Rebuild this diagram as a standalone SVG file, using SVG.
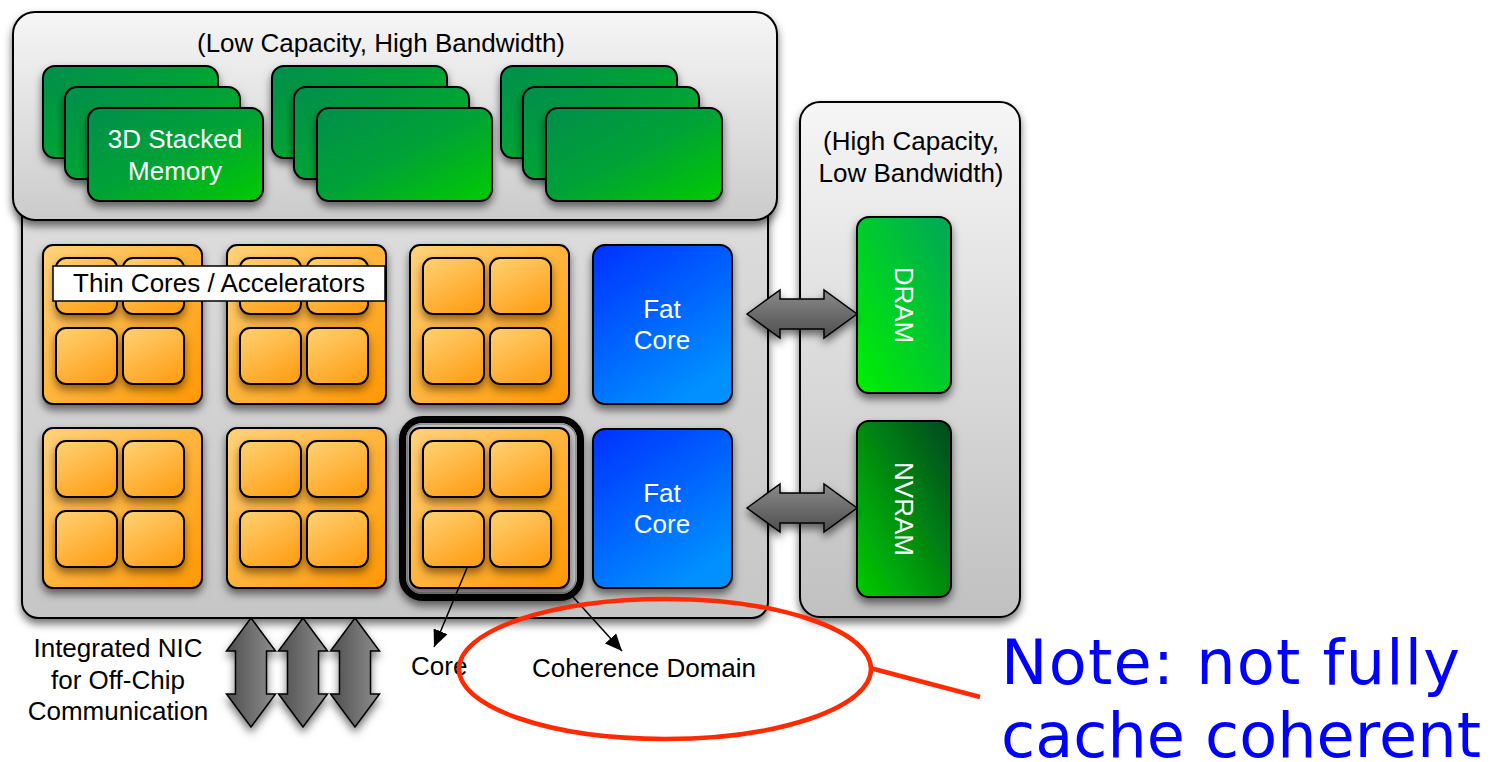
<svg xmlns="http://www.w3.org/2000/svg" width="1490" height="762" viewBox="0 0 1490 762">
<defs>
<style>
.lbl{font-family:"Liberation Sans",Arial,sans-serif;font-size:26px;fill:#000;text-anchor:middle}
.wl{font-family:"Liberation Sans",Arial,sans-serif;font-size:26px;fill:#fff;text-anchor:middle}
.note{font-family:"DejaVu Sans",Verdana,sans-serif;font-size:62px;fill:#0000ff}
.box{stroke:#000;stroke-width:2}
.mem{fill:url(#gMem);stroke:#000;stroke-width:2;filter:url(#sh)}
.tile{fill:url(#gOr);stroke:#000;stroke-width:2;filter:url(#sh)}
.sub{fill:url(#gSub);stroke:#000;stroke-width:2;filter:url(#sh2)}
.fat{fill:url(#gBlue);stroke:#000;stroke-width:2;filter:url(#sh)}
.darr{stroke:#000;stroke-width:1.5;filter:url(#sh)}
.ptr{stroke:#000;stroke-width:1.5;fill:none}
</style>
<filter id="sh" x="-20%" y="-20%" width="140%" height="150%">
<feDropShadow dx="0" dy="5" stdDeviation="4" flood-color="#000" flood-opacity="0.55"/>
</filter>
<filter id="sh2" x="-20%" y="-20%" width="140%" height="160%">
<feDropShadow dx="0" dy="5" stdDeviation="4" flood-color="#5a3000" flood-opacity="0.65"/>
</filter>
<linearGradient id="gGrayT" x1="0" y1="0" x2="0" y2="1"><stop offset="0" stop-color="#f6f6f6"/><stop offset="1" stop-color="#cbcbcb"/></linearGradient>
<linearGradient id="gGrayM" x1="0" y1="0" x2="0" y2="1"><stop offset="0" stop-color="#dedede"/><stop offset="1" stop-color="#c6c6c6"/></linearGradient>
<linearGradient id="gGrayR" x1="0" y1="0" x2="0" y2="1"><stop offset="0" stop-color="#f6f6f6"/><stop offset="1" stop-color="#c0c0c0"/></linearGradient>
<linearGradient id="gMem" x1="0" y1="0" x2="1" y2="1"><stop offset="0" stop-color="#008e4c"/><stop offset="0.5" stop-color="#00a236"/><stop offset="1" stop-color="#00cc00"/></linearGradient>
<linearGradient id="gOr" x1="0" y1="0" x2="1" y2="1"><stop offset="0" stop-color="#ffd27a"/><stop offset="1" stop-color="#ff9800"/></linearGradient>
<linearGradient id="gSub" x1="0" y1="0" x2="0.6" y2="1"><stop offset="0" stop-color="#ffd275"/><stop offset="1" stop-color="#ffa21c"/></linearGradient>
<linearGradient id="gBlue" x1="0" y1="0" x2="0.6" y2="1"><stop offset="0" stop-color="#0030ff"/><stop offset="1" stop-color="#0090ff"/></linearGradient>
<linearGradient id="gDram" x1="0" y1="1" x2="1" y2="0"><stop offset="0" stop-color="#00f000"/><stop offset="1" stop-color="#00a658"/></linearGradient>
<linearGradient id="gNv" x1="0" y1="1" x2="1" y2="0"><stop offset="0" stop-color="#00cc00"/><stop offset="1" stop-color="#004820"/></linearGradient>
<linearGradient id="gArrV" x1="0" y1="0" x2="1" y2="0"><stop offset="0" stop-color="#4e4e4e"/><stop offset="1" stop-color="#8e8e8e"/></linearGradient>
<linearGradient id="gArrH" x1="0" y1="0" x2="0" y2="1"><stop offset="0" stop-color="#8a8a8a"/><stop offset="1" stop-color="#4e4e4e"/></linearGradient>
<marker id="ah2" viewBox="0 0 10 10" refX="10" refY="5" markerWidth="17" markerHeight="15" markerUnits="userSpaceOnUse" orient="auto" preserveAspectRatio="none">
<path d="M0,0 L10,5 L0,10 z" fill="#000"/>
</marker>
</defs>

<rect width="1490" height="762" fill="#fff"/>

<g id="chip">
<rect x="22" y="190" width="746" height="428" rx="16" fill="url(#gGrayM)" class="box" filter="url(#sh)"/>
</g>

<g id="hbm-box">
<rect x="13" y="12" width="764" height="208" rx="22" fill="url(#gGrayT)" class="box" filter="url(#sh)"/>
<text class="lbl" x="381" y="52">(Low Capacity, High Bandwidth)</text>
</g>

<g id="mem-stack-1">
<rect class="mem" x="43" y="66" width="175" height="92" rx="12"/>
<rect class="mem" x="65" y="87" width="175" height="92" rx="12"/>
<rect class="mem" x="88" y="108" width="175" height="93" rx="12"/>
<text class="wl" x="175" y="148">3D Stacked</text>
<text class="wl" x="175" y="180">Memory</text>
</g>
<g id="mem-stack-2">
<rect class="mem" x="272" y="66" width="175" height="92" rx="12"/>
<rect class="mem" x="294" y="87" width="175" height="92" rx="12"/>
<rect class="mem" x="317" y="108" width="175" height="93" rx="12"/>
</g>
<g id="mem-stack-3">
<rect class="mem" x="501" y="66" width="176" height="92" rx="12"/>
<rect class="mem" x="523" y="87" width="176" height="92" rx="12"/>
<rect class="mem" x="546" y="108" width="176" height="93" rx="12"/>
</g>

<g id="offchip-box">
<rect x="800" y="102" width="220" height="515" rx="20" fill="url(#gGrayR)" class="box" filter="url(#sh)"/>
<text class="lbl" x="911" y="150">(High Capacity,</text>
<text class="lbl" x="911" y="182">Low Bandwidth)</text>
</g>

<g id="dram">
<rect x="857" y="217" width="94" height="176" rx="12" fill="url(#gDram)" stroke="#000" stroke-width="2" filter="url(#sh)"/>
<text class="wl" transform="translate(895,305) rotate(90)" x="0" y="0">DRAM</text>
</g>
<g id="nvram">
<rect x="857" y="421" width="94" height="176" rx="12" fill="url(#gNv)" stroke="#000" stroke-width="2" filter="url(#sh)"/>
<text class="wl" transform="translate(895,509) rotate(90)" x="0" y="0">NVRAM</text>
</g>

<g id="tile-1-1">
<rect class="tile" x="43" y="245" width="159" height="159" rx="10"/>
<rect class="sub" x="56" y="258" width="61" height="56" rx="10"/>
<rect class="sub" x="123" y="258" width="61" height="56" rx="10"/>
<rect class="sub" x="56" y="328" width="61" height="56" rx="10"/>
<rect class="sub" x="123" y="328" width="61" height="56" rx="10"/>
</g>
<g id="tile-1-2">
<rect class="tile" x="227" y="245" width="159" height="159" rx="10"/>
<rect class="sub" x="240" y="258" width="61" height="56" rx="10"/>
<rect class="sub" x="307" y="258" width="61" height="56" rx="10"/>
<rect class="sub" x="240" y="328" width="61" height="56" rx="10"/>
<rect class="sub" x="307" y="328" width="61" height="56" rx="10"/>
</g>
<g id="tile-1-3">
<rect class="tile" x="410" y="245" width="159" height="159" rx="10"/>
<rect class="sub" x="423" y="258" width="61" height="56" rx="10"/>
<rect class="sub" x="490" y="258" width="61" height="56" rx="10"/>
<rect class="sub" x="423" y="328" width="61" height="56" rx="10"/>
<rect class="sub" x="490" y="328" width="61" height="56" rx="10"/>
</g>
<g id="tile-2-1">
<rect class="tile" x="43" y="428" width="159" height="160" rx="10"/>
<rect class="sub" x="56" y="441" width="61" height="56" rx="10"/>
<rect class="sub" x="123" y="441" width="61" height="56" rx="10"/>
<rect class="sub" x="56" y="511" width="61" height="56" rx="10"/>
<rect class="sub" x="123" y="511" width="61" height="56" rx="10"/>
</g>
<g id="tile-2-2">
<rect class="tile" x="227" y="428" width="159" height="160" rx="10"/>
<rect class="sub" x="240" y="441" width="61" height="56" rx="10"/>
<rect class="sub" x="307" y="441" width="61" height="56" rx="10"/>
<rect class="sub" x="240" y="511" width="61" height="56" rx="10"/>
<rect class="sub" x="307" y="511" width="61" height="56" rx="10"/>
</g>
<g id="tile-2-3">
<rect x="402.5" y="419.5" width="178" height="178" rx="20" fill="#c8c8c8" stroke="#000" stroke-width="7" filter="url(#sh)"/>
<rect x="407" y="424" width="169" height="169" rx="15" fill="none" stroke="#8a8a8a" stroke-width="1.5"/>
<rect class="tile" x="410" y="428" width="159" height="160" rx="10"/>
<rect class="sub" x="423" y="441" width="61" height="56" rx="10"/>
<rect class="sub" x="490" y="441" width="61" height="56" rx="10"/>
<rect class="sub" x="423" y="511" width="61" height="56" rx="10"/>
<rect class="sub" x="490" y="511" width="61" height="56" rx="10"/>
</g>

<g id="thin-label">
<rect x="53" y="266" width="332" height="35" fill="#fff" stroke="#000" stroke-width="1.5"/>
<text class="lbl" x="219" y="292">Thin Cores / Accelerators</text>
</g>

<g id="fat-core-1">
<rect class="fat" x="593" y="245" width="139" height="159" rx="12"/>
<text class="wl" x="662" y="318">Fat</text>
<text class="wl" x="662" y="349">Core</text>
</g>
<g id="fat-core-2">
<rect class="fat" x="593" y="429" width="139" height="159" rx="12"/>
<text class="wl" x="662" y="502">Fat</text>
<text class="wl" x="662" y="533">Core</text>
</g>

<g id="connectors">
<polygon class="darr" fill="url(#gArrH)" points="747,314 780,290 780,299 824,299 824,290 857,314 824,338 824,329 780,329 780,338"/>
<polygon class="darr" fill="url(#gArrH)" points="747,508 780,484 780,493 824,493 824,484 857,508 824,532 824,523 780,523 780,532"/>
<polygon class="darr" fill="url(#gArrV)" points="251,618 275.5,651 266.5,651 266.5,694 275.5,694 251,727 226.5,694 235.5,694 235.5,651 226.5,651"/>
<polygon class="darr" fill="url(#gArrV)" points="303,618 327.5,651 318.5,651 318.5,694 327.5,694 303,727 278.5,694 287.5,694 287.5,651 278.5,651"/>
<polygon class="darr" fill="url(#gArrV)" points="355,618 379.5,651 370.5,651 370.5,694 379.5,694 355,727 330.5,694 339.5,694 339.5,651 330.5,651"/>
<line class="ptr" x1="467" y1="568" x2="434" y2="647" marker-end="url(#ah2)"/>
<line class="ptr" x1="573" y1="597" x2="622" y2="651" marker-end="url(#ah2)"/>
<line x1="870" y1="668" x2="980" y2="697" stroke="#ff2a00" stroke-width="4.5"/>
</g>

<g id="nic-label">
<text class="lbl" x="118" y="657">Integrated NIC</text>
<text class="lbl" x="118" y="689">for Off-Chip</text>
<text class="lbl" x="118" y="720">Communication</text>
</g>

<g id="core-label">
<text class="lbl" x="411" y="675" style="text-anchor:start">Core</text>
</g>

<g id="coherence-domain">
<ellipse cx="665" cy="669" rx="206" ry="70" fill="none" stroke="#ff2a00" stroke-width="4.5"/>
<text class="lbl" x="644" y="677">Coherence Domain</text>
</g>

<g id="note">
<text class="note" x="1001" y="684" textLength="459" lengthAdjust="spacing">Note: not fully</text>
<text class="note" x="1001" y="757" textLength="480" lengthAdjust="spacing">cache coherent</text>
</g>
</svg>
